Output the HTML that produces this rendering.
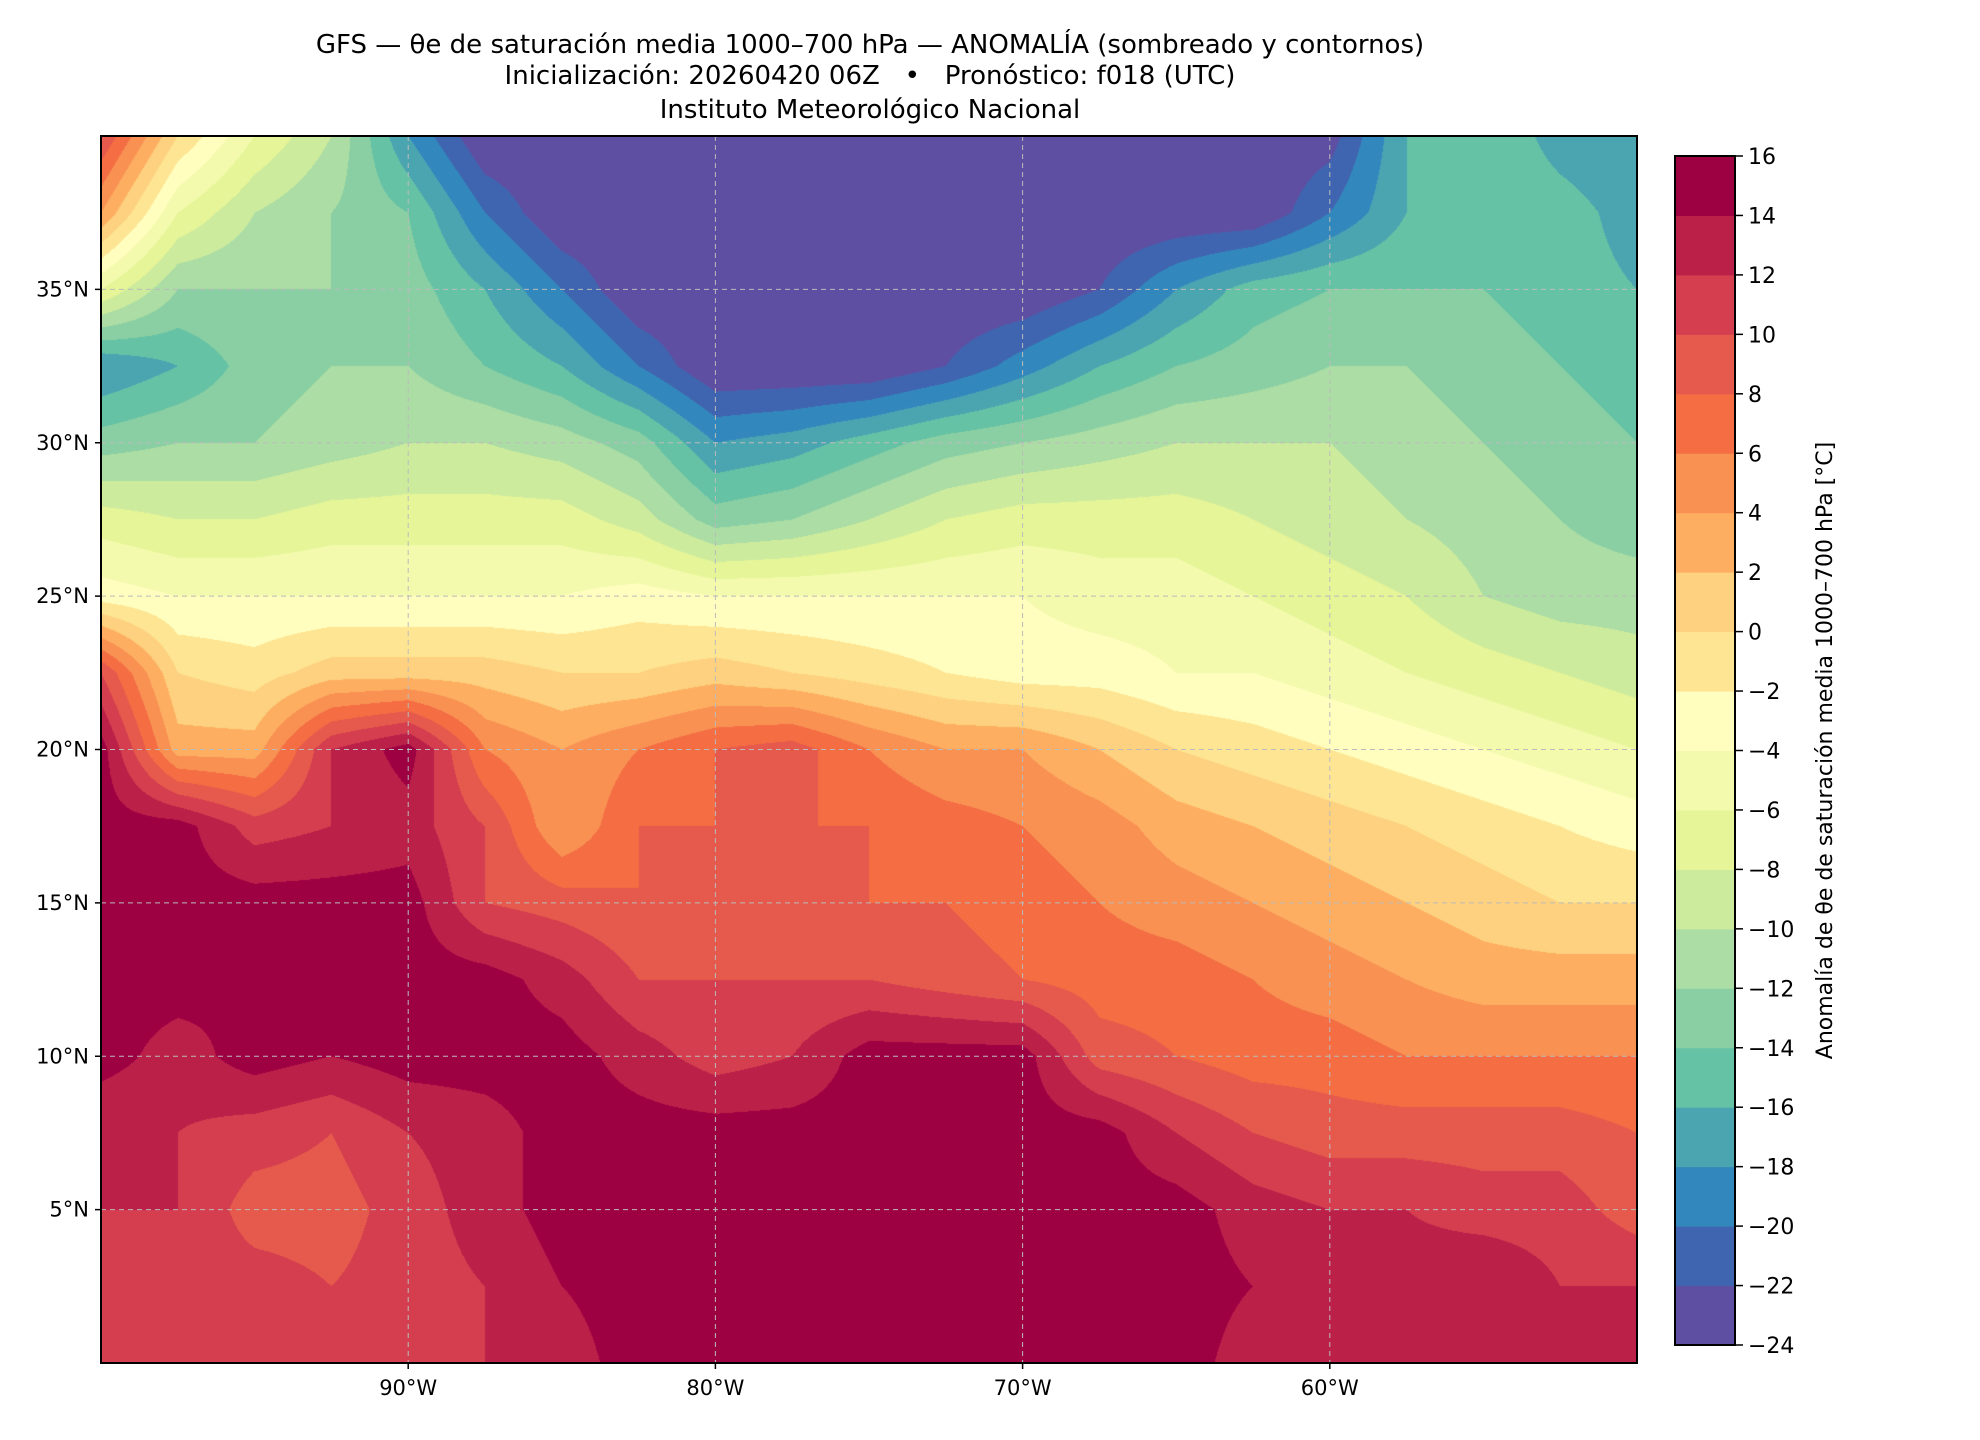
<!DOCTYPE html>
<html><head><meta charset="utf-8">
<style>
body{margin:0;background:#fff;}
#wrap{position:relative;width:1980px;height:1440px;overflow:hidden;font-family:"DejaVu Sans","Liberation Sans",sans-serif;color:#000;}
.t{position:absolute;left:0;width:1740px;text-align:center;font-size:26px;white-space:nowrap;}
</style></head><body>
<div id="wrap">
<div class="t" style="top:30px">GFS — θe de saturación media 1000–700 hPa — ANOMALÍA (sombreado y contornos)</div>
<div class="t" style="top:61px">Inicialización: 20260420 06Z &nbsp; • &nbsp; Pronóstico: f018 (UTC)</div>
<div class="t" style="top:95px">Instituto Meteorológico Nacional</div>
<canvas id="map" width="1536" height="1227" style="position:absolute;left:101px;top:136px"></canvas>
<svg id="ov" width="1980" height="1440" style="position:absolute;left:0;top:0"></svg>
</div>
<script>
const lons=[-100,-97.5,-95,-92.5,-90,-87.5,-85,-82.5,-80,-77.5,-75,-72.5,-70,-67.5,-65,-62.5,-60,-57.5,-55,-52.5,-50];
const lats=[40,37.5,35,32.5,30,27.5,25,22.5,20,17.5,15,12.5,10,7.5,5,2.5,0];
const anomaly=[
[10,0,-6,-10,-18,-24,-24,-24,-24,-24,-24,-24,-24,-24,-24,-24,-23,-16,-14,-17,-18],
[4,-6,-10,-12,-14,-20,-24,-24,-24,-24,-24,-24,-24,-24,-24,-24,-20,-16,-14,-15,-17],
[-6,-12,-12,-12,-13,-16,-20,-24,-24,-24,-24,-24,-24,-22,-18,-15,-14,-14,-14,-15,-16],
[-18,-16,-13,-12,-12,-14,-16,-20,-24,-24,-24,-22,-19,-16,-14,-13,-12,-12,-13,-14,-15],
[-13,-12,-12,-11,-10,-10,-11,-13,-18,-17,-15,-13,-12,-11,-10,-10,-10,-11,-12,-13,-14],
[-7,-8,-8,-7,-7,-7,-7,-9,-13,-12,-10,-8,-7,-7,-7,-8,-9,-10,-11,-12,-13],
[-3,-4,-4,-4,-4,-4,-4,-3,-4,-4,-4,-4,-4,-5,-5,-6,-7,-8,-10,-11,-11],
[10,0,-1,1,1,1,0,0,1,0,-1,-2,-3,-3,-4,-4,-5,-6,-7,-8,-9],
[15,3,3,12,15,6,4,6,8,9,6,4,4,2,0,-1,-2,-3,-4,-5,-6],
[15,15,11,12,13,10,4,8,8,8,8,7,6,5,3,2,1,0,-1,-2,-3],
[15,15,15,15,15,10,9,8,9,9,8,8,7,6,5,4,3,2,1,0,0],
[15,15,14,15,15,15,13,10,10,10,10,9,8,7,7,6,5,4,3,3,3],
[15,13,15,14,15,15,15,13,11,12,15,15,15,9,8,7,7,6,6,6,6],
[12,12,11,10,12,13,15,15,15,15,15,15,15,15,12,10,9,9,9,9,8],
[12,12,9,9,11,13,15,15,15,15,15,15,15,15,15,13,12,12,11,11,9],
[11,11,11,10,11,12,14,15,15,15,15,15,15,15,15,14,13,13,14,12,12],
[10,11,11,11,11,12,13,15,15,15,15,15,15,15,15,13,12,12,13,12,13]];
const levels=[-24,-22,-20,-18,-16,-14,-12,-10,-8,-6,-4,-2,0,2,4,6,8,10,12,14,16];
const colors=["#5e4fa2","#4065b0","#3288bd","#4ba5b1","#66c2a5","#8acfa4","#abdda4","#cdeb9d","#e6f598","#f3faad","#fffebe","#fee593","#fdd17f","#fdae61","#f99153","#f46d43","#e55a4c","#d53e4f","#bb2049","#9e0142"];
const lonTicks=[-90,-80,-70,-60], latTicks=[5,10,15,20,25,30,35];
const PL=101,PT=136,PW=1536,PH=1227;
const X=lon=>PL+(lon+100)/50*PW, Y=lat=>PT+(40-lat)/40*PH;
function hex(c){return [1,3,5].map(i=>parseInt(c.substr(i,2),16));}
const rgb=colors.map(hex);
function colIdx(v){let i=Math.floor((v-levels[0])/2);return Math.max(0,Math.min(colors.length-1,i));}
const cv=document.getElementById('map'),ctx=cv.getContext('2d');
const img=ctx.createImageData(PW,PH);
const nr=lats.length,nc=lons.length;
for(let py=0;py<PH;py++){
 const lat=40-(py+0.5)/PH*40;
 let gy=(lats[0]-lat)/(lats[0]-lats[1]);gy=Math.max(0,Math.min(nr-1.0001,gy));
 const r0=Math.floor(gy),fy=gy-r0;
 for(let px=0;px<PW;px++){
  const lon=-100+(px+0.5)/PW*50;
  let gx=(lon-lons[0])/(lons[1]-lons[0]);gx=Math.max(0,Math.min(nc-1.0001,gx));
  const c0=Math.floor(gx),fx=gx-c0;
  const v=anomaly[r0][c0]*(1-fx)*(1-fy)+anomaly[r0][c0+1]*fx*(1-fy)+anomaly[r0+1][c0]*(1-fx)*fy+anomaly[r0+1][c0+1]*fx*fy;
  const c=rgb[colIdx(v)],k=(py*PW+px)*4;
  img.data[k]=c[0];img.data[k+1]=c[1];img.data[k+2]=c[2];img.data[k+3]=255;
 }
}
ctx.putImageData(img,0,0);
const svg=document.getElementById('ov'),NS='http://www.w3.org/2000/svg';
function el(t,a,p){const e=document.createElementNS(NS,t);for(const k in a)e.setAttribute(k,a[k]);(p||svg).appendChild(e);return e;}
const FF='DejaVu Sans, Liberation Sans, sans-serif';
lonTicks.forEach(l=>{
 const g=el('line',{x1:X(l),x2:X(l),y1:PT,y2:PT+PH,stroke:'#bbb','stroke-width':1,'stroke-dasharray':'5,4'});
 
 
 const tk=el('line',{x1:X(l),x2:X(l),y1:PT+PH,y2:PT+PH+6,stroke:'#000','stroke-width':1.5});
 
 
 const t=el('text',{x:X(l),y:PT+PH+32,'text-anchor':'middle','font-size':21,'font-family':FF});
 t.textContent=Math.abs(l)+'°W';
 
 
});
latTicks.forEach(l=>{
 const g=el('line',{x1:PL,x2:PL+PW,y1:Y(l),y2:Y(l),stroke:'#bbb','stroke-width':1,'stroke-dasharray':'5,4'});
 
 
 const tk=el('line',{x1:PL-6,x2:PL,y1:Y(l),y2:Y(l),stroke:'#000','stroke-width':1.5});
 
 
 const t=el('text',{x:PL-12,y:Y(l)+7,'text-anchor':'end','font-size':21,'font-family':FF});
 t.textContent=l+'°N';
 
 
});
const fr=el('rect',{x:PL,y:PT,width:PW,height:PH,fill:'none',stroke:'#000','stroke-width':2});


const CL=1675,CW=60,CT=156,CB=1345,ch=(CB-CT)/colors.length;
colors.forEach((c,i)=>{
 const r=el('rect',{x:CL,y:CB-(i+1)*ch,width:CW,height:ch+0.5,fill:c});
 
 
});
const cf=el('rect',{x:CL,y:CT,width:CW,height:CB-CT,fill:'none',stroke:'#000','stroke-width':2});


levels.forEach((v,i)=>{
 const y=CB-i*ch;
 el('line',{x1:CL+CW,x2:CL+CW+8,y1:y,y2:y,stroke:'#000','stroke-width':1.5});
 const t=el('text',{x:CL+CW+13,y:y+8,'font-size':22,'font-family':FF});
 t.textContent=(v<0?'−':'')+Math.abs(v);
 
 
});
const cl=el('text',{x:0,y:0,'font-size':22,'font-family':FF,'text-anchor':'middle',transform:'translate(1832,'+((CT+CB)/2)+') rotate(-90)'});
cl.textContent='Anomalía de θe de saturación media 1000–700 hPa [°C]';


</script>
</body></html>
